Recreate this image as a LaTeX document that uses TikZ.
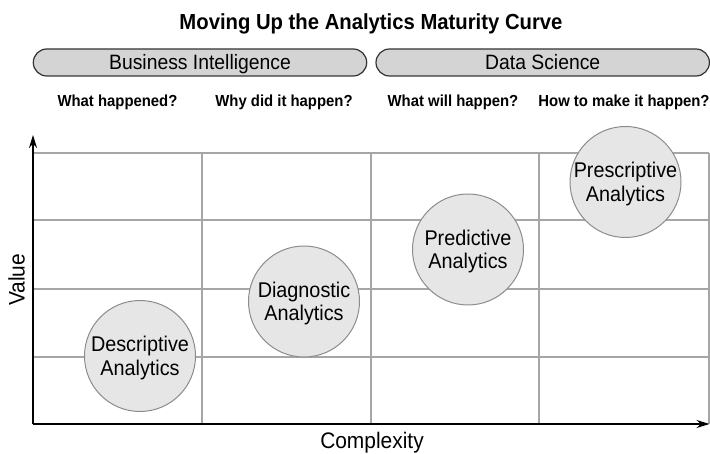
\documentclass[tikz,border=0pt]{standalone}
\usepackage{fontspec}
\setmainfont{Liberation Sans}[FakeStretch=0.93]
\usetikzlibrary{arrows.meta}
\definecolor{gridgray}{HTML}{A6A6A6}
\definecolor{pillfill}{HTML}{D4D4D4}
\definecolor{pilldraw}{HTML}{333333}
\definecolor{circfill}{HTML}{E6E6E6}
\definecolor{circdraw}{HTML}{8C8C8C}
\begin{document}
\begin{tikzpicture}[x=1pt,y=-1pt,
 gridline/.style={gridgray, line width=1.2pt},
 axisline/.style={black, line width=1.5pt, -{Stealth[length=13pt,width=8pt]}},
 pill/.style={draw=pilldraw, fill=pillfill, line width=1.2pt, rounded corners=13.5pt,
   minimum width=333.4pt, minimum height=27pt, inner sep=0pt, text height=14.5pt, text depth=0pt,
   font=\fontsize{20.8}{23}\selectfont},
 stage/.style={circle, draw=circdraw, fill=circfill, line width=1pt, minimum size=111pt,
   inner sep=0pt, align=center, text depth=0pt, font=\fontsize{21.3}{23.5}\selectfont},
 question/.style={anchor=base, font=\bfseries\fontsize{16}{18}\selectfont},
 axislabel/.style={anchor=base, font=\fontsize{22.5}{25}\selectfont},
]
\useasboundingbox (0,0) rectangle (710,454);

% grid
\draw[gridline] (33,153) -- (709,153);
\draw[gridline] (33,220) -- (709,220);
\draw[gridline] (33,289) -- (709,289);
\draw[gridline] (33,357) -- (709,357);
\draw[gridline] (202,153) -- (202,424);
\draw[gridline] (371,153) -- (371,424);
\draw[gridline] (539,153) -- (539,424);
\draw[gridline] (709,153) -- (709,424);

% axes
\coordinate (origin) at (33,424);
\coordinate (ytop) at (33,135);
\coordinate (xend) at (709.5,424);
\draw[axisline] (origin) -- (ytop);
\draw[axisline] (origin) -- (xend);

% title
\node[anchor=base, font=\bfseries\fontsize{21.8}{24}\selectfont] (title) at (371,29.5)
  {Moving Up the Analytics Maturity Curve};

% pills
\node[pill] (bi) at (200,62.5) {Business Intelligence};
\node[pill] (ds) at (542.7,62.5) {Data Science};

% questions
\node[question] (q1) at (117.5,107) {What happened?};
\node[question] (q2) at (284,107) {Why did it happen?};
\node[question] (q3) at (453,107) {What will happen?};
\node[question] (q4) at (624,107) {How to make it happen?};

% stages
\node[stage] (desc) at (140,356) {Descriptive\\Analytics};
\node[stage] (diag) at (304,301.5) {Diagnostic\\Analytics};
\node[stage] (pred) at (468,249.5) {Predictive\\Analytics};
\node[stage] (pres) at (625.5,182) {Prescriptive\\Analytics};

% axis labels
\node[axislabel, rotate=90] (value) at (24.5,280) {Value};
\node[axislabel] (complexity) at (372,449) {Complexity};
\end{tikzpicture}
\end{document}
